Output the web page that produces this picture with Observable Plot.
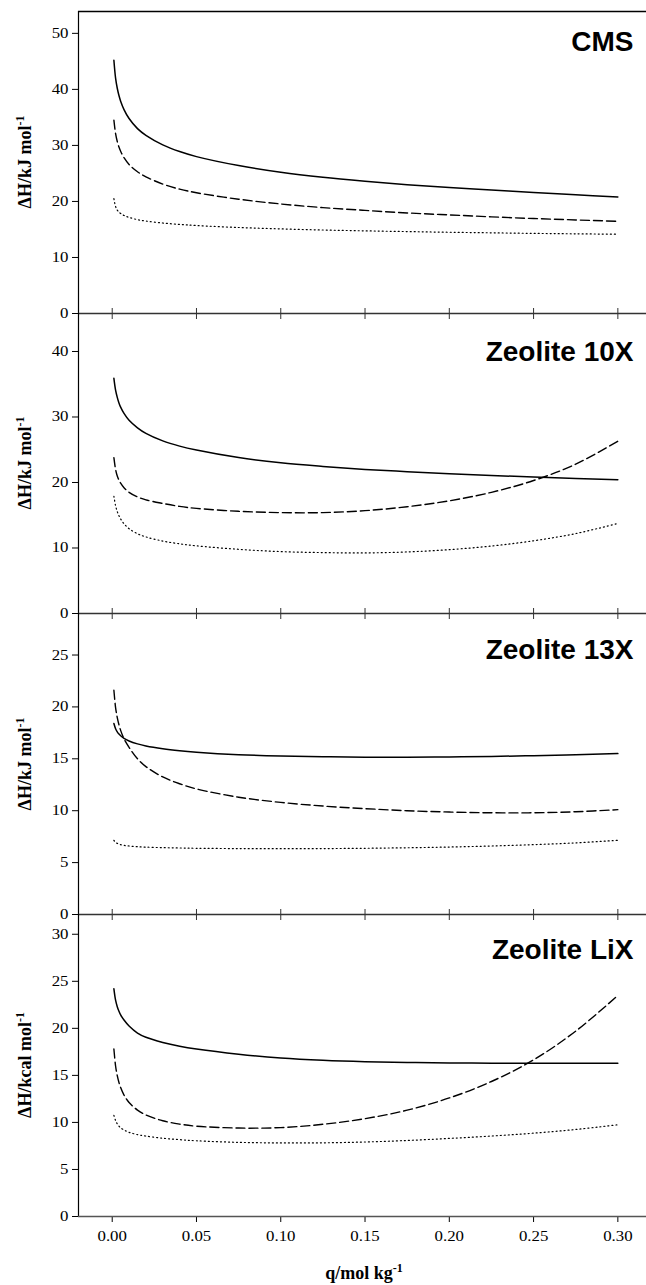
<!DOCTYPE html>
<html><head><meta charset="utf-8">
<script src="https://cdn.jsdelivr.net/npm/d3@7"></script>
<script src="https://cdn.jsdelivr.net/npm/@observablehq/plot@0.6"></script>
<style>
body{margin:0;background:#fff;}
#wrap{position:relative;width:646px;height:1285px;overflow:hidden;background:#fff;}
#wrap svg{position:absolute;left:0;}
.ylab{position:absolute;font:bold 18px "Liberation Serif",serif;transform:translate(-50%,-50%) rotate(-90deg);white-space:nowrap;color:#000;}
.xlab{position:absolute;font:bold 18px "Liberation Serif",serif;transform:translate(-50%,0);white-space:nowrap;color:#000;}
.sup{font-size:12px;position:relative;top:-7px;}
</style>
</head><body>
<div id="wrap"></div>
<script>
// shared x grid (q, mol/kg)
const qGrid = [0.001, 0.002, 0.003, 0.004, 0.005, 0.007, 0.01, 0.015, 0.02, 0.03, 0.04, 0.05, 0.075, 0.1, 0.125, 0.15, 0.175, 0.2, 0.225, 0.25, 0.275, 0.3];

// CMS
const cmsSolid  = [45.2, 42.0, 40.2, 38.9, 37.9, 36.4, 34.8, 33.0, 31.8, 30.1, 28.9, 28.0, 26.4, 25.2, 24.3, 23.6, 23.0, 22.5, 22.05, 21.6, 21.2, 20.8];
const cmsDashed = [34.5, 32.1, 30.7, 29.7, 28.95, 27.8, 26.6, 25.3, 24.4, 23.1, 22.2, 21.55, 20.4, 19.55, 18.9, 18.4, 17.95, 17.6, 17.25, 16.95, 16.7, 16.45];
const cmsDotted = [20.5, 19.1, 18.45, 18.1, 17.85, 17.5, 17.15, 16.75, 16.5, 16.15, 15.9, 15.7, 15.35, 15.1, 14.9, 14.75, 14.62, 14.5, 14.4, 14.3, 14.22, 14.15];

// Zeolite 10X
const z10Solid  = [35.9, 34.1, 33.0, 32.15, 31.5, 30.55, 29.5, 28.35, 27.5, 26.35, 25.55, 24.95, 23.8, 23.0, 22.45, 22.0, 21.65, 21.33, 21.07, 20.83, 20.62, 20.42];
const z10Dashed = [23.8, 22.0, 21.0, 20.37, 19.9, 19.2, 18.5, 17.8, 17.35, 16.8, 16.35, 16.05, 15.6, 15.4, 15.4, 15.7, 16.3, 17.2, 18.5, 20.3, 22.8, 26.3];
const z10Dotted = [17.9, 16.45, 15.56, 14.93, 14.44, 13.7, 12.95, 12.18, 11.69, 11.06, 10.64, 10.33, 9.8, 9.45, 9.3, 9.25, 9.4, 9.75, 10.3, 11.1, 12.2, 13.75];

// Zeolite 13X
const z13Solid  = [18.4, 17.9, 17.6, 17.38, 17.22, 16.97, 16.72, 16.44, 16.24, 15.97, 15.78, 15.64, 15.4, 15.27, 15.2, 15.16, 15.15, 15.18, 15.23, 15.3, 15.39, 15.5];
const z13Dashed = [21.6, 19.94, 18.97, 18.28, 17.74, 16.93, 16.1, 15.0, 14.25, 13.25, 12.6, 12.1, 11.3, 10.8, 10.45, 10.2, 10.0, 9.87, 9.8, 9.8, 9.9, 10.1];
const z13Dotted = [7.15, 6.95, 6.85, 6.78, 6.73, 6.66, 6.6, 6.53, 6.49, 6.44, 6.41, 6.38, 6.35, 6.34, 6.35, 6.38, 6.43, 6.5, 6.6, 6.73, 6.9, 7.15];

// Zeolite LiX
const lixSolid  = [24.2, 22.99, 22.3, 21.81, 21.43, 20.88, 20.25, 19.5, 19.05, 18.5, 18.1, 17.8, 17.25, 16.85, 16.6, 16.45, 16.37, 16.32, 16.3, 16.28, 16.28, 16.3];
const lixDashed = [17.8, 16.0, 14.97, 14.25, 13.7, 12.91, 12.12, 11.31, 10.79, 10.18, 9.82, 9.6, 9.4, 9.45, 9.8, 10.4, 11.3, 12.6, 14.35, 16.65, 19.7, 23.5];
const lixDotted = [10.75, 10.2, 9.85, 9.6, 9.43, 9.2, 8.95, 8.7, 8.55, 8.32, 8.17, 8.05, 7.88, 7.82, 7.83, 7.92, 8.08, 8.3, 8.55, 8.86, 9.25, 9.75];

// axes
const xDomain = [-0.02, 0.317];
const xTicks = [0, 0.05, 0.10, 0.15, 0.20, 0.25, 0.30];
const panelTitles = ["CMS", "Zeolite 10X", "Zeolite 13X", "Zeolite LiX"];
const yDomains = [[0, 53.9], [0, 45.8], [0, 29], [0, 32.1]];
const yTicks = [[0, 10, 20, 30, 40, 50], [0, 10, 20, 30, 40], [0, 5, 10, 15, 20, 25], [0, 5, 10, 15, 20, 25, 30]];
const yUnits = ["kJ", "kJ", "kJ", "kcal"];
const xLabel = "q/mol kg";

const series = [
  [cmsSolid, cmsDashed, cmsDotted],
  [z10Solid, z10Dashed, z10Dotted],
  [z13Solid, z13Dashed, z13Dotted],
  [lixSolid, lixDashed, lixDotted]
];

const layout = [
  {top: 0,   mt: 11, bottom: 313,  tdy: 39},
  {top: 303, mt: 10, bottom: 613,  tdy: 47},
  {top: 603, mt: 10, bottom: 914,  tdy: 45},
  {top: 904, mt: 10, bottom: 1216, tdy: 44}
];

const wrap = document.getElementById("wrap");
const styles = [
  {strokeWidth: 1.5},
  {strokeWidth: 1.4, strokeDasharray: "9,4"},
  {strokeWidth: 1.2, strokeDasharray: "1,3"}
];

// widen tick labels slightly (the reference digits are broad)
function widenTickLabels(svg, k) {
  svg.querySelectorAll('g[aria-label$="tick label"] text').forEach(t => {
    try {
      const len = t.getComputedTextLength();
      if (len > 0) {
        t.setAttribute("textLength", (len * k).toFixed(2));
        t.setAttribute("lengthAdjust", "spacingAndGlyphs");
      }
    } catch (e) {}
  });
}

series.forEach((grp, i) => {
  const L = layout[i];
  const last = i === series.length - 1;
  const mb = last ? (1285 - L.bottom) : 10;
  const height = (L.bottom - L.top) + mb;
  const marks = [];
  grp.forEach((vals, k) => {
    const data = qGrid.map((q, j) => ({q, H: vals[j]}));
    marks.push(Plot.line(data, {x: "q", y: "H", stroke: "#000", curve: "catmull-rom", ...styles[k]}));
  });
  marks.push(Plot.ruleX([xDomain[0]], {stroke: "#000", strokeWidth: 1.2}));
  if (i === 0) marks.push(Plot.ruleY([yDomains[0][1]], {stroke: "#000", strokeWidth: 1.3}));
  marks.push(Plot.axisY(yTicks[i], {anchor: "left", tickSize: 6, tickPadding: 4, label: null, fontSize: 14, fontFamily: "Liberation Serif"}));
  if (last) {
    marks.push(Plot.axisX(xTicks, {anchor: "bottom", tickSize: 6, tickPadding: 9, label: null, tickFormat: d3.format(".2f"), fontSize: 14, fontFamily: "Liberation Serif"}));
    marks.push(Plot.ruleY([0], {stroke: "#555", strokeWidth: 1.5}));
  } else {
    marks.push(Plot.axisX(xTicks, {anchor: "bottom", tickSize: 11, dy: -5, label: null, tickFormat: () => "", stroke: "#333"}));
    marks.push(Plot.ruleY([0], {stroke: "#333", strokeWidth: 1.7}));
  }
  marks.push(Plot.text([panelTitles[i]], {frameAnchor: "top-right", textAnchor: "end", lineAnchor: "bottom", dx: -13, dy: L.tdy, fontFamily: "Liberation Sans", fontWeight: "bold", fontSize: 28, fill: "#000"}));

  const svg = Plot.plot({
    width: 646,
    height,
    marginLeft: 78,
    marginRight: 0,
    marginTop: L.mt,
    marginBottom: mb,
    x: {domain: xDomain},
    y: {domain: yDomains[i]},
    style: {background: "transparent", overflow: "visible", color: "#000", fontFamily: "Liberation Serif", fontSize: "14px"},
    marks
  });
  svg.style.top = L.top + "px";
  wrap.appendChild(svg);
  widenTickLabels(svg, 1.2);

  const lab = document.createElement("div");
  lab.className = "ylab";
  lab.style.left = "25px";
  lab.style.top = ((L.top + L.mt + L.bottom) / 2) + "px";
  lab.innerHTML = `\u0394H/${yUnits[i]} mol<span class="sup">-1</span>`;
  wrap.appendChild(lab);
});

const xl = document.createElement("div");
xl.className = "xlab";
xl.style.left = "364px";
xl.style.top = "1263px";
xl.innerHTML = `${xLabel}<span class="sup">-1</span>`;
wrap.appendChild(xl);
</script>
</body></html>
